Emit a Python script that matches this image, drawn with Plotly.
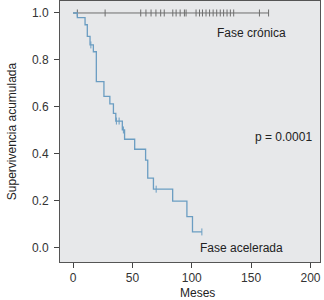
import plotly.graph_objects as go

# Accelerated phase: times of drops and survival after each drop
acc_times = [0, 3.6, 10.1, 12.0, 14.3, 17.1, 19.6, 26.0, 31.0, 34.0, 36.0, 41.5, 43.4, 51.9, 61.1, 62.9, 67.7, 83.9, 95.9, 100.6, 108.5]
acc_surv = [1.0, 0.98, 0.95, 0.90, 0.864, 0.835, 0.708, 0.645, 0.613, 0.573, 0.54, 0.502, 0.4625, 0.42, 0.374, 0.297, 0.25, 0.199, 0.133, 0.068, 0.068]
acc_cens_t = [15.0, 36.5, 38.8, 42.4, 70.0, 108.5]
acc_cens_s = [0.864, 0.54, 0.54, 0.502, 0.25, 0.068]

# Chronic phase: no events, censored times
chr_line_t = [0, 165]
chr_cens_t = [3.6, 27, 57, 61.4, 65.7, 69.8, 73.8, 76.8, 84, 86.8, 90.2, 93.8, 95.2,
              103.6, 106.5, 109, 112, 115, 118, 121, 124, 126.8, 129.7, 132.5, 135.3, 157, 164.7]

x_ticks = [0, 50, 100, 150, 200]
y_ticks = [0.0, 0.2, 0.4, 0.6, 0.8, 1.0]
y_tick_labels = ["0.0", "0.2", "0.4", "0.6", "0.8", "1.0"]

acc_color = "#6b9dc2"
chr_color = "#6e6e6e"
font = "Liberation Sans, Arial, sans-serif"

fig = go.Figure()
fig.add_trace(go.Scatter(x=chr_line_t, y=[1.0, 1.0], mode="lines",
                         line=dict(color=chr_color, width=1), hoverinfo="skip"))
fig.add_trace(go.Scatter(x=chr_cens_t, y=[1.0] * len(chr_cens_t), mode="markers",
                         marker=dict(symbol="line-ns-open", size=5, color=chr_color,
                                     line=dict(color=chr_color, width=1))))
fig.add_trace(go.Scatter(x=acc_times, y=acc_surv, mode="lines", line_shape="hv",
                         line=dict(color=acc_color, width=1.3)))
fig.add_trace(go.Scatter(x=acc_cens_t, y=acc_cens_s, mode="markers",
                         marker=dict(symbol="line-ns-open", size=5, color=acc_color,
                                     line=dict(color=acc_color, width=1))))

fig.add_annotation(x=150.7, y=0.916, text="Fase crónica", showarrow=False,
                   font=dict(size=12, color="#222", family=font))
fig.add_annotation(x=177, y=0.474, text="p = 0.0001", showarrow=False,
                   font=dict(size=12, color="#222", family=font))
fig.add_annotation(x=142, y=-0.002, text="Fase acelerada", showarrow=False,
                   font=dict(size=12, color="#222", family=font))
fig.add_annotation(x=0.527, y=-0.119, xref="paper", yref="paper", text="Meses", showarrow=False,
                   yanchor="middle", xanchor="center",
                   font=dict(size=12, color="#222", family=font))

fig.update_layout(
    width=324, height=300,
    margin=dict(l=60, r=4, t=1, b=38, autoexpand=False),
    paper_bgcolor="white", plot_bgcolor="#e7e8ea",
    showlegend=False,
    font=dict(family=font, size=12, color="#333"),
)
fig.update_xaxes(range=[-11, 208], tickvals=x_ticks, ticks="outside", ticklen=5,
                 tickcolor="#444", showgrid=False, zeroline=False,
                 showline=True, mirror=True, linecolor="#555", linewidth=1,
                 tickfont=dict(size=12, color="#333"))
fig.update_yaxes(range=[-0.06, 1.051], tickvals=y_ticks, ticktext=y_tick_labels,
                 ticks="outside", ticklen=5, tickcolor="#444", showgrid=False,
                 zeroline=False, showline=True, mirror=True, linecolor="#555", linewidth=1,
                 tickfont=dict(size=12, color="#333"), ticklabelstandoff=3,
                 title=dict(text="Supervivencia acumulada", font=dict(size=12, color="#222"), standoff=12))

fig.write_html("out.html", config={"displayModeBar": False},
               post_script="document.body.style.margin='0';")
